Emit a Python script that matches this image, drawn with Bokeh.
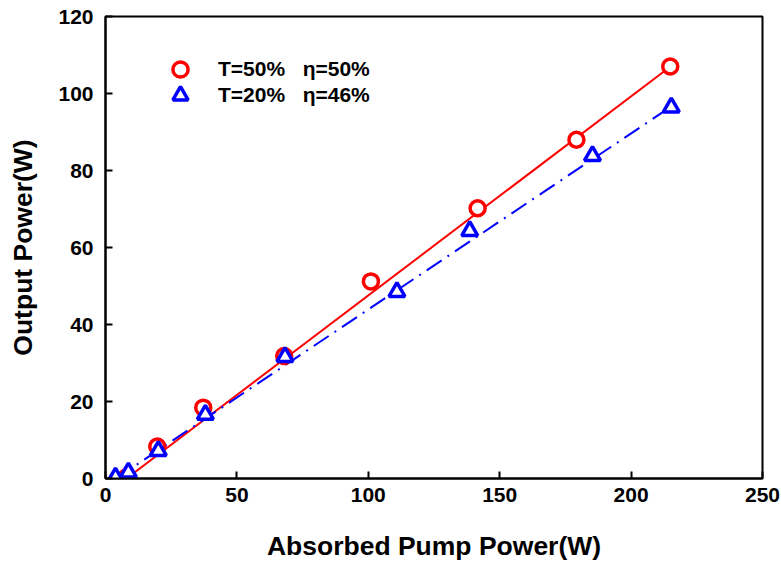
from bokeh.plotting import figure
from bokeh.models import Legend, LegendItem, FixedTicker, Range1d
from bokeh.embed import file_html
from bokeh.resources import INLINE

# Data
red_x = [8, 19.7, 37.2, 68, 101, 141.6, 179.2, 214.9]
red_y = [0.3, 8.3, 18.4, 31.8, 51.2, 70.2, 88.0, 107.0]
blue_x = [3.8, 8.7, 20.1, 38.0, 68.3, 110.9, 138.6, 185.3, 215.3]
blue_y = [0.3, 1.6, 7.2, 16.6, 31.6, 48.5, 64.3, 83.8, 96.4]
red_fit_x = [8, 215]
red_fit_y = [0.0, 107.0]
blue_fit_x = [4, 215]
blue_fit_y = [0.0, 96.5]
label_red = "T=50%   η=50%"
label_blue = "T=20%   η=46%"

FONT = "Liberation Sans"

p = figure(width=781, height=563, output_backend="svg", toolbar_location=None,
           x_range=Range1d(0, 250), y_range=Range1d(0, 120),
           min_border_left=105, min_border_right=19, min_border_top=16, min_border_bottom=84)
p.grid.visible = False
p.outline_line_color = "black"
p.outline_line_width = 2
p.background_fill_color = "white"
p.border_fill_color = "white"

for ax in (p.xaxis[0], p.yaxis[0]):
    ax.axis_line_width = 2
    ax.axis_line_color = "black"
    ax.major_tick_in = 7
    ax.major_tick_out = 0
    ax.major_tick_line_width = 2
    ax.minor_tick_in = 0
    ax.minor_tick_out = 0
    ax.major_label_text_font = FONT
    ax.major_label_text_font_style = "bold"
    ax.major_label_text_font_size = "21px"
    ax.major_label_text_color = "black"
    ax.axis_label_text_font = FONT
    ax.axis_label_text_font_style = "bold"
    ax.axis_label_text_font_size = "26.5px"
    ax.axis_label_text_color = "black"

p.xaxis.ticker = FixedTicker(ticks=[0, 50, 100, 150, 200, 250])
p.yaxis.ticker = FixedTicker(ticks=[0, 20, 40, 60, 80, 100, 120])
p.xaxis.axis_label = "Absorbed Pump Power(W)"
p.yaxis.axis_label = "Output Power(W)"
p.xaxis.major_label_standoff = 9
p.yaxis.major_label_standoff = 12
p.xaxis.axis_label_standoff = 26
p.yaxis.axis_label_standoff = 17

p.line(red_fit_x, red_fit_y, line_color="#FF0000", line_width=2)
p.line(blue_fit_x, blue_fit_y, line_color="#0000FF", line_width=2, line_dash="18 7 2 7")

r_red = p.scatter(red_x, red_y, marker="circle", size=15, line_color="#FF0000",
                  line_width=3.5, fill_color="white")
r_blue = p.scatter(blue_x, blue_y, marker="triangle", size=16, line_color="#0000FF",
                   line_width=3.5, fill_color="white")

common = dict(padding=0, margin=0, spacing=0, glyph_width=38, glyph_height=38,
              label_height=38, label_standoff=19, border_line_alpha=0,
              background_fill_alpha=0, label_text_font=FONT,
              label_text_font_style="bold", label_text_font_size="21px",
              label_text_color="black")
leg1 = Legend(items=[LegendItem(label=label_red, renderers=[r_red])],
              location=(56, 390), **common)
leg2 = Legend(items=[LegendItem(label=label_blue, renderers=[r_blue])],
              location=(56, 364), **common)
p.add_layout(leg1)
p.add_layout(leg2)

open("out.html", "w").write(file_html(p, INLINE))
